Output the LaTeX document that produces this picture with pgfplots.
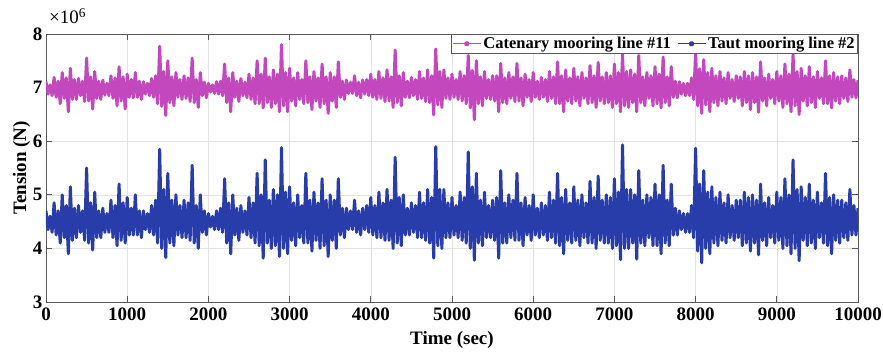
\documentclass[border=0pt]{standalone}
\usepackage{pgfplots}
\pgfplotsset{compat=1.18}
\usepackage{fontspec}
\setmainfont{Liberation Serif}
\definecolor{cpink}{RGB}{195,72,190}
\definecolor{cblue}{RGB}{40,60,170}
\begin{document}
\begin{tikzpicture}
\begin{axis}[
  scale only axis, width=812pt, height=268pt,
  xmin=0, xmax=10000, ymin=3, ymax=8,
  xtick={0,1000,...,10000}, ytick={3,4,5,6,7,8},
  scaled x ticks=false, scaled y ticks=false,
  /pgf/number format/assume math mode=true,
  xticklabel style={/pgf/number format/set thousands separator={}, yshift=-2pt},
  ticklabel style={font=\fontsize{19}{22}\selectfont\bfseries},
  label style={font=\fontsize{19}{22}\selectfont\bfseries},
  xlabel={Time (sec)}, ylabel={Tension (N)},
  xlabel style={yshift=-4pt},
  ylabel style={yshift=-4pt},
  grid=major, major grid style={gray!22, line width=0.6pt},
  axis line style={black!65, line width=0.8pt},
  tick style={black!65, line width=0.8pt},
  tick align=inside, major tick length=6pt,
  xtick pos=both, ytick pos=both,
  legend columns=2,
  legend style={at={(1,1)}, anchor=north east, draw=black!65, line width=0.6pt, fill=white,
    font=\fontsize{16.5}{18}\selectfont\bfseries, inner sep=1pt,
    /tikz/every even column/.append style={column sep=4pt}},
  legend image code/.code={\draw[#1, line width=1.3pt] (0pt,0pt) -- (28pt,0pt); \fill[#1] (14pt,0pt) circle (1.4pt);},
]
\coordinate (ll) at (rel axis cs:0,0);
\coordinate (ur) at (rel axis cs:1,1);
\addplot[cpink, line width=3pt, line join=round] coordinates {
(0,7.11)(25,6.88)(50,7.05)(75,6.85)(100,7.19)(125,6.82)(150,7.12)(175,6.70)
(200,7.28)(225,6.80)(250,7.18)(275,6.55)(300,7.36)(325,6.78)(350,7.15)(375,6.78)
(400,7.17)(425,6.85)(450,7.12)(475,6.74)(500,7.55)(525,6.75)(550,7.20)(575,6.60)
(600,7.30)(625,6.80)(650,7.12)(675,6.78)(700,7.14)(725,6.86)(750,7.08)(775,6.85)
(800,7.22)(825,6.80)(850,7.18)(875,6.66)(900,7.39)(925,6.75)(950,7.20)(975,6.60)
(1000,7.25)(1025,6.82)(1050,7.15)(1075,6.81)(1100,7.28)(1125,6.82)(1150,7.12)(1175,6.78)
(1200,7.11)(1225,6.88)(1250,7.08)(1275,6.85)(1300,7.17)(1325,6.82)(1350,7.22)(1375,6.70)
(1400,7.77)(1425,6.65)(1450,7.30)(1475,6.48)(1500,7.50)(1525,6.72)(1550,7.20)(1575,6.66)
(1600,7.28)(1625,6.82)(1650,7.15)(1675,6.78)(1700,7.22)(1725,6.80)(1750,7.18)(1775,6.74)
(1800,7.55)(1825,6.72)(1850,7.15)(1875,6.63)(1900,7.28)(1925,6.85)(1950,7.10)(1975,6.81)
(2000,7.08)(2025,6.92)(2050,7.05)(2075,6.89)(2100,7.11)(2125,6.88)(2150,7.12)(2175,6.85)
(2200,7.44)(2225,6.72)(2250,7.18)(2275,6.55)(2300,7.28)(2325,6.82)(2350,7.12)(2375,6.74)
(2400,7.17)(2425,6.85)(2450,7.10)(2475,6.81)(2500,7.25)(2525,6.78)(2550,7.18)(2575,6.70)
(2600,7.50)(2625,6.70)(2650,7.25)(2675,6.62)(2700,7.55)(2725,6.72)(2750,7.20)(2775,6.63)
(2800,7.33)(2825,6.70)(2850,7.25)(2875,6.55)(2900,7.80)(2925,6.66)(2950,7.28)(2975,6.55)
(3000,7.36)(3025,6.75)(3050,7.18)(3075,6.66)(3100,7.28)(3125,6.78)(3150,7.15)(3175,6.70)
(3200,7.50)(3225,6.72)(3250,7.20)(3275,6.59)(3300,7.30)(3325,6.75)(3350,7.18)(3375,6.63)
(3400,7.44)(3425,6.70)(3450,7.20)(3475,6.52)(3500,7.28)(3525,6.75)(3550,7.20)(3575,6.63)
(3600,7.48)(3625,6.82)(3650,7.12)(3675,6.78)(3700,7.14)(3725,6.89)(3750,7.10)(3775,6.89)
(3800,7.22)(3825,6.85)(3850,7.10)(3875,6.81)(3900,7.14)(3925,6.88)(3950,7.15)(3975,6.85)
(4000,7.25)(4025,6.82)(4050,7.15)(4075,6.78)(4100,7.30)(4125,6.80)(4150,7.18)(4175,6.74)
(4200,7.33)(4225,6.75)(4250,7.20)(4275,6.63)(4300,7.70)(4325,6.72)(4350,7.22)(4375,6.66)
(4400,7.28)(4425,6.82)(4450,7.12)(4475,6.81)(4500,7.19)(4525,6.85)(4550,7.15)(4575,6.78)
(4600,7.30)(4625,6.80)(4650,7.18)(4675,6.74)(4700,7.33)(4725,6.72)(4750,7.22)(4775,6.49)
(4800,7.72)(4825,6.68)(4850,7.30)(4875,6.63)(4900,7.33)(4925,6.80)(4950,7.18)(4975,6.78)
(5000,7.25)(5025,6.82)(5050,7.15)(5075,6.78)(5100,7.30)(5125,6.75)(5150,7.22)(5175,6.70)
(5200,7.60)(5225,6.62)(5250,7.32)(5275,6.40)(5300,7.50)(5325,6.70)(5350,7.20)(5375,6.66)
(5400,7.30)(5425,6.80)(5450,7.15)(5475,6.78)(5500,7.22)(5525,6.75)(5550,7.22)(5575,6.55)
(5600,7.45)(5625,6.72)(5650,7.18)(5675,6.70)(5700,7.28)(5725,6.80)(5750,7.20)(5775,6.74)
(5800,7.45)(5825,6.75)(5850,7.18)(5875,6.66)(5900,7.25)(5925,6.82)(5950,7.15)(5975,6.74)
(6000,7.28)(6025,6.82)(6050,7.12)(6075,6.78)(6100,7.19)(6125,6.82)(6150,7.15)(6175,6.74)
(6200,7.30)(6225,6.80)(6250,7.20)(6275,6.70)(6300,7.48)(6325,6.70)(6350,7.22)(6375,6.55)
(6400,7.33)(6425,6.75)(6450,7.18)(6475,6.70)(6500,7.36)(6525,6.75)(6550,7.20)(6575,6.66)
(6600,7.28)(6625,6.80)(6650,7.18)(6675,6.70)(6700,7.41)(6725,6.72)(6750,7.22)(6775,6.63)
(6800,7.47)(6825,6.75)(6850,7.20)(6875,6.70)(6900,7.28)(6925,6.72)(6950,7.22)(6975,6.63)
(7000,7.44)(7025,6.70)(7050,7.28)(7075,6.55)(7100,7.62)(7125,6.66)(7150,7.30)(7175,6.63)
(7200,7.33)(7225,6.72)(7250,7.25)(7275,6.55)(7300,7.60)(7325,6.72)(7350,7.20)(7375,6.66)
(7400,7.28)(7425,6.80)(7450,7.22)(7475,6.66)(7500,7.39)(7525,6.70)(7550,7.25)(7575,6.62)
(7600,7.57)(7625,6.72)(7650,7.20)(7675,6.66)(7700,7.39)(7725,6.82)(7750,7.12)(7775,6.81)
(7800,7.11)(7825,6.88)(7850,7.08)(7875,6.85)(7900,7.08)(7925,6.85)(7950,7.18)(7975,6.78)
(8000,7.65)(8025,6.66)(8050,7.35)(8075,6.52)(8100,7.52)(8125,6.68)(8150,7.28)(8175,6.55)
(8200,7.36)(8225,6.72)(8250,7.22)(8275,6.66)(8300,7.30)(8325,6.75)(8350,7.18)(8375,6.70)
(8400,7.28)(8425,6.80)(8450,7.15)(8475,6.74)(8500,7.22)(8525,6.80)(8550,7.20)(8575,6.66)
(8600,7.30)(8625,6.72)(8650,7.22)(8675,6.59)(8700,7.28)(8725,6.72)(8750,7.20)(8775,6.54)
(8800,7.48)(8825,6.75)(8850,7.18)(8875,6.66)(8900,7.25)(8925,6.80)(8950,7.15)(8975,6.70)
(9000,7.30)(9025,6.75)(9050,7.22)(9075,6.63)(9100,7.44)(9125,6.70)(9150,7.25)(9175,6.55)
(9200,7.62)(9225,6.66)(9250,7.30)(9275,6.50)(9300,7.36)(9325,6.75)(9350,7.22)(9375,6.66)
(9400,7.39)(9425,6.72)(9450,7.20)(9475,6.63)(9500,7.30)(9525,6.80)(9550,7.18)(9575,6.70)
(9600,7.50)(9625,6.70)(9650,7.22)(9675,6.62)(9700,7.28)(9725,6.75)(9750,7.20)(9775,6.70)
(9800,7.22)(9825,6.80)(9850,7.18)(9875,6.74)(9900,7.33)(9925,6.82)(9950,7.15)(9975,6.81)
(10000,7.14)
};
\addlegendentry{Catenary mooring line \#11}
\addplot[cblue, line width=3pt, line join=round] coordinates {
(0,4.70)(25,4.35)(50,4.60)(75,4.30)(100,4.85)(125,4.25)(150,4.70)(175,4.10)
(200,5.00)(225,4.20)(250,4.80)(275,3.90)(300,5.15)(325,4.15)(350,4.75)(375,4.20)
(400,4.80)(425,4.30)(450,4.70)(475,4.15)(500,5.50)(525,4.10)(550,4.85)(575,3.97)
(600,5.05)(625,4.20)(650,4.70)(675,4.20)(700,4.75)(725,4.30)(750,4.65)(775,4.30)
(800,4.90)(825,4.20)(850,4.80)(875,4.05)(900,5.20)(925,4.15)(950,4.85)(975,4.10)
(1000,4.95)(1025,4.25)(1050,4.75)(1075,4.25)(1100,5.00)(1125,4.25)(1150,4.70)(1175,4.20)
(1200,4.70)(1225,4.35)(1250,4.65)(1275,4.30)(1300,4.80)(1325,4.25)(1350,4.90)(1375,4.10)
(1400,5.85)(1425,4.00)(1450,5.10)(1475,3.83)(1500,5.40)(1525,4.10)(1550,4.90)(1575,4.05)
(1600,5.00)(1625,4.25)(1650,4.80)(1675,4.20)(1700,4.90)(1725,4.20)(1750,4.85)(1775,4.15)
(1800,5.55)(1825,4.10)(1850,4.80)(1875,4.00)(1900,5.00)(1925,4.30)(1950,4.70)(1975,4.25)
(2000,4.65)(2025,4.40)(2050,4.60)(2075,4.35)(2100,4.70)(2125,4.35)(2150,4.75)(2175,4.30)
(2200,5.30)(2225,4.10)(2250,4.85)(2275,3.90)(2300,5.00)(2325,4.25)(2350,4.75)(2375,4.15)
(2400,4.80)(2425,4.30)(2450,4.70)(2475,4.25)(2500,4.95)(2525,4.20)(2550,4.85)(2575,4.10)
(2600,5.40)(2625,4.05)(2650,5.00)(2675,3.82)(2700,5.65)(2725,4.10)(2750,4.90)(2775,4.00)
(2800,5.10)(2825,4.05)(2850,5.00)(2875,3.85)(2900,5.88)(2925,4.00)(2950,5.05)(2975,3.90)
(3000,5.15)(3025,4.15)(3050,4.85)(3075,4.05)(3100,5.00)(3125,4.20)(3150,4.80)(3175,4.10)
(3200,5.40)(3225,4.10)(3250,4.90)(3275,3.95)(3300,5.05)(3325,4.15)(3350,4.85)(3375,4.00)
(3400,5.30)(3425,4.05)(3450,4.90)(3475,3.85)(3500,5.00)(3525,4.15)(3550,4.90)(3575,4.00)
(3600,5.30)(3625,4.25)(3650,4.75)(3675,4.20)(3700,4.75)(3725,4.35)(3750,4.70)(3775,4.35)
(3800,4.90)(3825,4.30)(3850,4.70)(3875,4.25)(3900,4.75)(3925,4.35)(3950,4.80)(3975,4.30)
(4000,4.95)(4025,4.25)(4050,4.80)(4075,4.20)(4100,5.05)(4125,4.20)(4150,4.85)(4175,4.15)
(4200,5.10)(4225,4.15)(4250,4.90)(4275,4.00)(4300,5.70)(4325,4.10)(4350,4.95)(4375,4.05)
(4400,5.00)(4425,4.25)(4450,4.75)(4475,4.25)(4500,4.85)(4525,4.30)(4550,4.80)(4575,4.20)
(4600,5.05)(4625,4.20)(4650,4.85)(4675,4.15)(4700,5.10)(4725,4.10)(4750,4.95)(4775,3.82)
(4800,5.90)(4825,4.05)(4850,5.10)(4875,4.00)(4900,5.10)(4925,4.20)(4950,4.85)(4975,4.20)
(5000,4.95)(5025,4.25)(5050,4.80)(5075,4.20)(5100,5.05)(5125,4.15)(5150,4.95)(5175,4.10)
(5200,5.80)(5225,4.00)(5250,5.15)(5275,3.78)(5300,5.40)(5325,4.10)(5350,4.90)(5375,4.05)
(5400,5.05)(5425,4.20)(5450,4.80)(5475,4.20)(5500,4.90)(5525,4.15)(5550,4.95)(5575,3.82)
(5600,5.45)(5625,4.10)(5650,4.85)(5675,4.10)(5700,5.00)(5725,4.20)(5750,4.90)(5775,4.15)
(5800,5.40)(5825,4.15)(5850,4.85)(5875,4.05)(5900,4.95)(5925,4.25)(5950,4.80)(5975,4.15)
(6000,5.00)(6025,4.25)(6050,4.75)(6075,4.20)(6100,4.85)(6125,4.25)(6150,4.80)(6175,4.15)
(6200,5.05)(6225,4.20)(6250,4.90)(6275,4.10)(6300,5.40)(6325,4.05)(6350,4.95)(6375,3.90)
(6400,5.10)(6425,4.15)(6450,4.85)(6475,4.10)(6500,5.15)(6525,4.15)(6550,4.90)(6575,4.05)
(6600,5.00)(6625,4.20)(6650,4.85)(6675,4.10)(6700,5.25)(6725,4.10)(6750,4.95)(6775,4.00)
(6800,5.35)(6825,4.15)(6850,4.90)(6875,4.10)(6900,5.00)(6925,4.10)(6950,4.95)(6975,4.00)
(7000,5.30)(7025,4.05)(7050,5.05)(7075,3.79)(7100,5.93)(7125,4.00)(7150,5.10)(7175,4.00)
(7200,5.10)(7225,4.10)(7250,5.00)(7275,3.80)(7300,5.45)(7325,4.10)(7350,4.90)(7375,4.05)
(7400,5.00)(7425,4.20)(7450,4.95)(7475,4.05)(7500,5.20)(7525,4.05)(7550,5.00)(7575,3.90)
(7600,5.55)(7625,4.10)(7650,4.90)(7675,4.05)(7700,5.20)(7725,4.25)(7750,4.75)(7775,4.25)
(7800,4.70)(7825,4.35)(7850,4.65)(7875,4.30)(7900,4.65)(7925,4.30)(7950,4.80)(7975,4.20)
(8000,5.87)(8025,3.95)(8050,5.20)(8075,3.73)(8100,5.45)(8125,4.00)(8150,5.05)(8175,3.90)
(8200,5.15)(8225,4.10)(8250,4.95)(8275,4.05)(8300,5.05)(8325,4.15)(8350,4.85)(8375,4.10)
(8400,5.00)(8425,4.20)(8450,4.80)(8475,4.15)(8500,4.90)(8525,4.20)(8550,4.90)(8575,4.05)
(8600,5.05)(8625,4.10)(8650,4.95)(8675,3.95)(8700,5.00)(8725,4.10)(8750,4.90)(8775,3.88)
(8800,5.20)(8825,4.15)(8850,4.85)(8875,4.05)(8900,4.95)(8925,4.20)(8950,4.80)(8975,4.10)
(9000,5.05)(9025,4.15)(9050,4.95)(9075,4.00)(9100,5.30)(9125,4.05)(9150,5.00)(9175,3.90)
(9200,5.65)(9225,4.00)(9250,5.10)(9275,3.77)(9300,5.15)(9325,4.15)(9350,4.95)(9375,4.05)
(9400,5.20)(9425,4.10)(9450,4.90)(9475,4.00)(9500,5.05)(9525,4.20)(9550,4.85)(9575,4.10)
(9600,5.40)(9625,4.05)(9650,4.95)(9675,3.90)(9700,5.00)(9725,4.15)(9750,4.90)(9775,4.10)
(9800,4.90)(9825,4.20)(9850,4.85)(9875,4.15)(9900,5.10)(9925,4.25)(9950,4.80)(9975,4.25)
(10000,4.75)
};
\addlegendentry{Taut mooring line \#2}
\end{axis}
\node[anchor=base west, inner sep=0pt, font=\fontsize{19}{21}\selectfont] at ([xshift=3pt, yshift=10pt]ur -| ll) {×10\textsuperscript{6}};
\pgfresetboundingbox
\path[use as bounding box] ([shift={(-46pt,-49pt)}]ll) rectangle ([shift={(25pt,34pt)}]ur);
\end{tikzpicture}
\end{document}
